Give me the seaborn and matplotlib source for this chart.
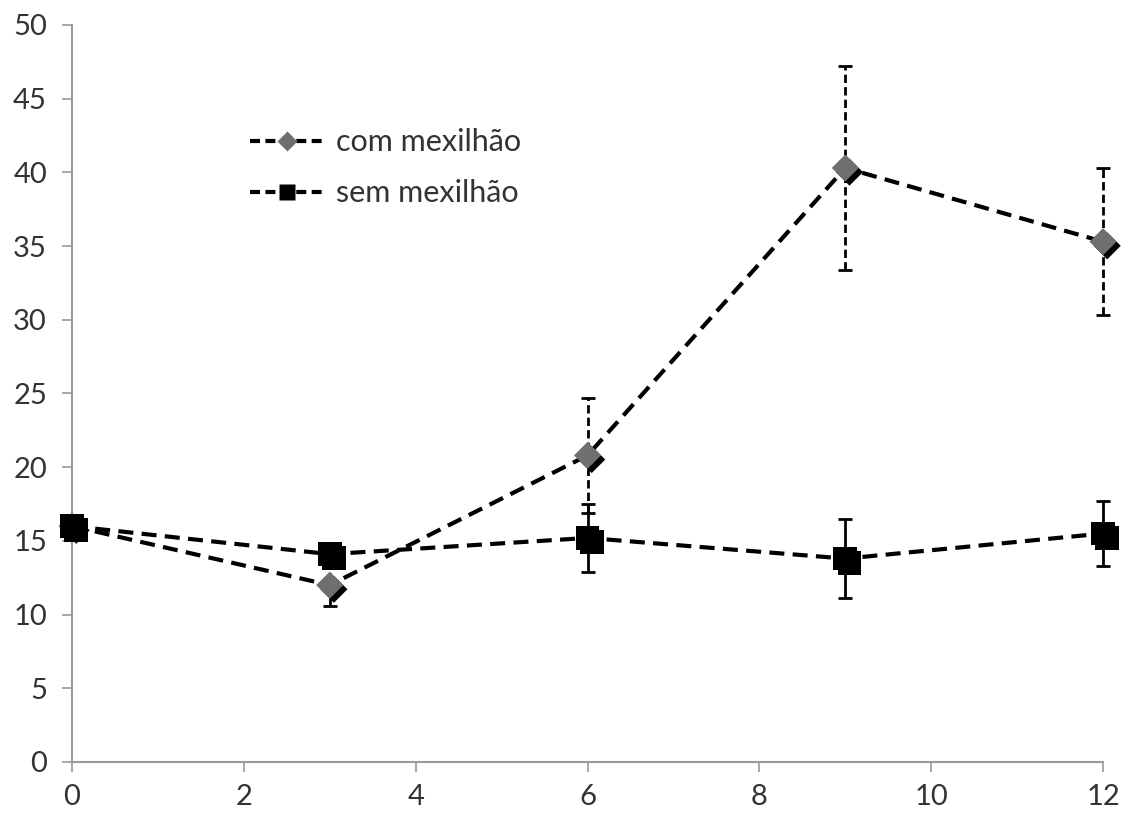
import numpy as np
import pandas as pd
import matplotlib.pyplot as plt
import matplotlib.patheffects as pe
from matplotlib.lines import Line2D
import seaborn as sns

# data
dias = [0, 3, 6, 9, 12]
com_mexilhao = [16.0, 12.0, 20.8, 40.3, 35.3]
com_err = [0.5, 1.4, 3.9, 6.9, 5.0]
sem_mexilhao = [16.0, 14.1, 15.2, 13.8, 15.5]
sem_err = [0.5, 0.6, 2.3, 2.7, 2.2]
series_names = ["com mexilhão", "sem mexilhão"]

sns.set_style("white")
plt.rcParams['font.family'] = ['Lato', 'DejaVu Sans']

df = pd.DataFrame({
    "x": dias * 2,
    "y": com_mexilhao + sem_mexilhao,
    "serie": [series_names[0]] * len(dias) + [series_names[1]] * len(dias),
})

fig = plt.figure(figsize=(11.34, 8.14), dpi=100)
ax = fig.add_axes([0.0635, 0.0639, 0.9092, 0.9054])

# error bars (dashed for com, solid for sem)
eb = ax.errorbar(dias, com_mexilhao, yerr=com_err, fmt='none', ecolor='black',
                 elinewidth=2.0, capsize=5, capthick=2.0, zorder=2)
eb[2][0].set_linestyle((0, (3, 1.5)))
ax.errorbar(dias, sem_mexilhao, yerr=sem_err, fmt='none', ecolor='black',
            elinewidth=2.0, capsize=5, capthick=2.0, zorder=2)

# dashed lines
n_before = len(ax.get_lines())
for name in series_names:
    sub = df[df["serie"] == name]
    sns.lineplot(data=sub, x="x", y="y", ax=ax, color='black', linewidth=3.0,
                 estimator=None, zorder=3)
for ln in ax.get_lines()[n_before:]:
    ln.set_linestyle((0, (3.6, 2.0)))

# markers with shadow
shadow = [pe.SimplePatchShadow(offset=(3, -3), shadow_rgbFace='black', alpha=1.0), pe.Normal()]
sub = df[df["serie"] == series_names[0]]
sns.scatterplot(data=sub, x="x", y="y", ax=ax, marker='D', s=190, color='#6f6f6f',
                edgecolor='none', zorder=4, path_effects=shadow)
sub = df[df["serie"] == series_names[1]]
sns.scatterplot(data=sub, x="x", y="y", ax=ax, marker='s', s=290, color='black',
                edgecolor='none', zorder=5, path_effects=shadow)

ax.set_xlim(0, 12)
ax.set_ylim(0, 50)
ax.set_xticks(range(0, 13, 2))
ax.set_yticks(range(0, 51, 5))
ax.set_xlabel("")
ax.set_ylabel("")
ax.tick_params(axis='both', which='both', direction='out', length=7, width=1.2,
               color='#9a9a9a', labelsize=21, labelcolor='#333333',
               left=True, bottom=True)
ax.tick_params(axis='y', pad=11)
ax.tick_params(axis='x', pad=9)
for side in ['top', 'right']:
    ax.spines[side].set_visible(False)
for side in ['left', 'bottom']:
    ax.spines[side].set_color('#9a9a9a')
    ax.spines[side].set_linewidth(1.5)
for art in ax.collections + ax.lines:
    art.set_clip_on(False)

handles = [
    Line2D([0], [0], color='black', linewidth=3.0, linestyle=(0, (2.4, 1.3)),
           marker='D', markersize=10, markerfacecolor='#6f6f6f', markeredgecolor='none'),
    Line2D([0], [0], color='black', linewidth=3.0, linestyle=(0, (2.4, 1.3)),
           marker='s', markersize=12, markerfacecolor='black', markeredgecolor='none'),
]
ax.legend(handles, series_names, loc='upper left', bbox_to_anchor=(0.146, 0.897),
          frameon=False, fontsize=22, handlelength=2.4, handletextpad=0.4,
          labelspacing=0.75, labelcolor='#333333')

fig.savefig("out.png", dpi=100)
